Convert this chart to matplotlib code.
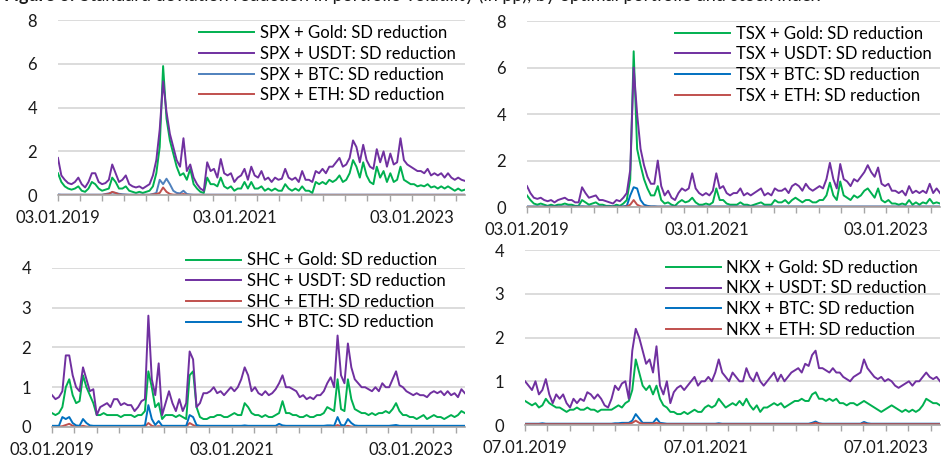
import numpy as np
import pandas as pd
import matplotlib
matplotlib.use("Agg")
import matplotlib.pyplot as plt
import matplotlib.dates as mdates
import matplotlib.ticker as mticker

plt.rcParams['font.family'] = ['Lato', 'DejaVu Sans']

# biweekly readings, 121 points per series
n_pts = 121
dates_a = pd.date_range("2019-01-03", periods=n_pts, freq="14D")  # SPX, TSX, SHC
dates_b = pd.date_range("2019-01-07", periods=n_pts, freq="14D")  # NKX

# ---- SPX ----
spx_gold = [1.0,0.6,0.4,0.3,0.25,0.3,0.4,0.2,0.15,0.3,
            0.6,0.5,0.3,0.2,0.25,0.3,0.8,0.6,0.3,0.3,
            0.4,0.2,0.15,0.1,0.15,0.1,0.15,0.2,0.4,1.0,
            2.2,5.9,3.5,2.5,1.9,1.3,0.9,1.0,0.7,1.2,
            0.5,0.3,0.15,0.1,0.8,0.5,0.5,0.4,0.8,0.4,
            0.3,0.4,0.2,0.3,0.3,0.6,0.3,0.6,0.3,0.3,
            0.4,0.2,0.3,0.2,0.3,0.2,0.2,0.5,0.3,0.2,
            0.3,0.2,0.4,0.2,0.2,0.1,0.6,0.5,0.6,0.5,
            0.7,0.6,0.7,0.9,0.6,0.7,1.0,1.6,1.3,0.8,
            1.5,0.9,0.6,0.5,1.3,0.8,1.1,0.6,1.0,0.6,
            0.7,1.3,0.7,0.6,0.5,0.5,0.4,0.45,0.4,0.5,
            0.35,0.4,0.3,0.4,0.3,0.4,0.3,0.2,0.3,0.2,
            0.25]
spx_usdt = [1.7,0.9,0.7,0.55,0.5,0.6,0.8,0.5,0.35,0.6,
            1.0,1.0,0.6,0.5,0.55,0.7,1.4,1.0,0.6,0.7,
            0.9,0.5,0.4,0.35,0.4,0.3,0.4,0.5,0.9,1.6,
            3.0,5.2,3.8,2.8,2.2,1.6,1.3,2.6,1.1,1.4,
            0.8,0.5,0.3,0.2,1.5,1.1,1.2,0.8,1.65,1.0,
            0.9,1.0,0.6,0.8,0.9,1.2,0.7,1.3,0.9,0.8,
            1.1,0.7,0.8,0.6,0.8,0.7,0.75,1.2,0.8,0.7,
            0.8,0.6,1.1,0.7,0.7,0.6,1.1,1.0,1.2,1.0,
            1.3,1.3,1.5,1.7,1.3,1.4,1.7,2.5,2.2,1.5,
            2.3,1.6,1.3,1.2,2.1,1.5,2.0,1.3,1.9,1.4,
            1.5,2.6,1.6,1.4,1.3,1.2,1.1,1.1,1.0,1.2,
            0.9,1.0,0.9,1.0,0.8,1.0,0.8,0.7,0.8,0.7,
            0.65]
spx_btc = [0.03,0.02,0.02,0.02,0.02,0.02,0.02,0.02,0.02,0.02,
           0.02,0.02,0.02,0.02,0.05,0.08,0.12,0.1,0.06,0.04,
           0.03,0.02,0.02,0.02,0.02,0.02,0.02,0.02,0.05,0.1,
           0.7,0.5,0.75,0.5,0.2,0.1,0.08,0.2,0.05,0.03,
           0.02,0.02,0.02,0.02,0.02,0.02,0.02,0.02,0.02,0.02,
           0.02,0.02,0.02,0.02,0.02,0.02,0.02,0.02,0.02,0.02,
           0.02,0.02,0.02,0.02,0.02,0.02,0.02,0.02,0.02,0.02,
           0.02,0.02,0.02,0.02,0.02,0.02,0.02,0.02,0.02,0.02,
           0.02,0.02,0.02,0.02,0.02,0.02,0.02,0.02,0.02,0.02,
           0.02,0.02,0.02,0.02,0.02,0.02,0.02,0.02,0.02,0.02,
           0.02,0.02,0.02,0.02,0.02,0.02,0.02,0.02,0.02,0.02,
           0.02,0.02,0.02,0.02,0.02,0.02,0.02,0.02,0.02,0.02,
           0.02]
spx_eth = [0.01,0.01,0.01,0.01,0.01,0.01,0.01,0.01,0.01,0.01,
           0.01,0.01,0.01,0.01,0.03,0.05,0.15,0.1,0.03,0.01,
           0.01,0.01,0.01,0.01,0.01,0.01,0.01,0.01,0.03,0.05,
           0.1,0.35,0.15,0.05,0.02,0.02,0.02,0.05,0.01,0.01,
           0.01,0.01,0.01,0.01,0.01,0.01,0.01,0.01,0.01,0.01,
           0.01,0.01,0.01,0.01,0.01,0.01,0.01,0.01,0.01,0.01,
           0.01,0.01,0.01,0.01,0.01,0.01,0.01,0.01,0.01,0.01,
           0.01,0.01,0.01,0.01,0.01,0.01,0.01,0.01,0.01,0.01,
           0.01,0.01,0.01,0.01,0.01,0.01,0.01,0.01,0.01,0.01,
           0.01,0.01,0.01,0.01,0.01,0.01,0.01,0.01,0.01,0.01,
           0.01,0.01,0.01,0.01,0.01,0.01,0.01,0.01,0.01,0.01,
           0.01,0.01,0.01,0.01,0.01,0.01,0.01,0.01,0.01,0.01,
           0.01]

# ---- TSX ----
tsx_gold = [0.5,0.3,0.15,0.1,0.15,0.1,0.05,0.1,0.05,0.1,
            0.1,0.15,0.1,0.1,0.05,0.05,0.3,0.2,0.1,0.15,
            0.2,0.1,0.1,0.05,0.05,0.03,0.1,0.05,0.15,0.3,
            1.2,6.7,2.5,1.8,1.2,0.8,0.5,0.5,0.9,0.3,
            0.15,0.2,0.1,0.05,0.2,0.3,0.2,0.25,0.4,0.2,
            0.1,0.1,0.15,0.1,0.2,0.8,0.3,0.3,0.15,0.1,
            0.1,0.1,0.2,0.1,0.1,0.05,0.1,0.15,0.2,0.1,
            0.1,0.1,0.3,0.2,0.2,0.3,0.15,0.3,0.4,0.3,
            0.2,0.3,0.3,0.2,0.2,0.3,0.3,0.5,1.05,0.5,
            0.3,1.1,0.5,0.4,0.3,0.5,0.4,0.5,0.7,0.8,
            0.6,0.4,0.8,0.3,0.2,0.3,0.15,0.15,0.1,0.15,
            0.1,0.3,0.1,0.2,0.1,0.2,0.15,0.35,0.15,0.2,
            0.15]
tsx_usdt = [0.9,0.6,0.4,0.35,0.4,0.3,0.25,0.3,0.2,0.3,
            0.35,0.4,0.3,0.3,0.2,0.2,0.85,0.6,0.4,0.45,
            0.5,0.3,0.3,0.25,0.2,0.15,0.3,0.25,0.4,0.6,
            1.6,6.0,4.0,2.5,1.8,1.3,1.0,1.0,2.0,0.9,
            0.5,0.7,0.4,0.3,0.6,0.8,0.7,0.8,1.45,0.8,
            0.6,0.5,0.6,0.5,0.7,1.45,0.8,0.9,0.6,0.5,
            0.6,0.6,0.8,0.5,0.6,0.5,0.6,0.7,0.8,0.5,
            0.6,0.5,0.8,0.7,0.7,0.8,0.6,0.9,1.0,0.9,
            0.7,1.0,0.8,0.7,0.8,0.9,0.8,1.2,1.9,1.2,
            0.8,1.85,1.2,1.1,0.9,1.2,1.1,1.3,1.5,1.8,
            1.5,1.3,1.7,1.0,0.9,1.0,0.7,0.7,0.6,0.7,
            0.5,0.9,0.6,0.7,0.6,0.7,0.6,1.0,0.6,0.8,
            0.6]
tsx_btc = [0.02,0.02,0.02,0.02,0.02,0.02,0.02,0.02,0.02,0.02,
           0.02,0.02,0.02,0.02,0.02,0.02,0.03,0.02,0.02,0.02,
           0.02,0.02,0.02,0.02,0.02,0.02,0.02,0.02,0.03,0.05,
           0.5,0.85,0.8,0.3,0.1,0.05,0.03,0.03,0.02,0.02,
           0.02,0.02,0.02,0.02,0.02,0.02,0.02,0.02,0.02,0.02,
           0.02,0.02,0.02,0.02,0.02,0.02,0.02,0.02,0.02,0.02,
           0.02,0.02,0.02,0.02,0.02,0.02,0.02,0.02,0.02,0.02,
           0.02,0.02,0.02,0.02,0.02,0.02,0.02,0.02,0.02,0.02,
           0.02,0.02,0.02,0.02,0.02,0.02,0.02,0.02,0.02,0.02,
           0.02,0.02,0.02,0.02,0.02,0.02,0.02,0.02,0.02,0.02,
           0.02,0.02,0.02,0.02,0.02,0.02,0.02,0.02,0.02,0.02,
           0.02,0.02,0.02,0.02,0.02,0.02,0.02,0.02,0.02,0.02,
           0.02]
tsx_eth = [0.01,0.01,0.01,0.01,0.01,0.01,0.01,0.01,0.01,0.01,
           0.01,0.01,0.01,0.01,0.01,0.01,0.01,0.01,0.01,0.01,
           0.01,0.01,0.01,0.01,0.01,0.01,0.01,0.01,0.01,0.02,
           0.1,0.3,0.1,0.03,0.01,0.01,0.01,0.01,0.01,0.01,
           0.01,0.01,0.01,0.01,0.01,0.01,0.01,0.01,0.01,0.01,
           0.01,0.01,0.01,0.01,0.01,0.01,0.01,0.01,0.01,0.01,
           0.01,0.01,0.01,0.01,0.01,0.01,0.01,0.01,0.01,0.01,
           0.01,0.01,0.01,0.01,0.01,0.01,0.01,0.01,0.01,0.01,
           0.01,0.01,0.01,0.01,0.01,0.01,0.01,0.01,0.01,0.01,
           0.01,0.01,0.01,0.01,0.01,0.01,0.01,0.01,0.01,0.01,
           0.01,0.01,0.01,0.01,0.01,0.01,0.01,0.01,0.01,0.01,
           0.01,0.01,0.01,0.01,0.01,0.01,0.01,0.01,0.01,0.01,
           0.01]

# ---- SHC ----
shc_gold = [0.35,0.3,0.35,0.5,1.0,1.2,0.8,0.6,0.65,1.3,
            1.0,0.8,0.6,0.3,0.3,0.35,0.3,0.3,0.3,0.3,
            0.25,0.3,0.3,0.3,0.25,0.3,0.3,0.4,1.4,1.0,
            0.5,0.6,0.2,0.3,0.3,0.3,0.25,0.3,0.25,0.2,
            1.3,1.4,0.5,0.25,0.2,0.2,0.25,0.25,0.3,0.3,
            0.25,0.25,0.3,0.35,0.3,0.3,0.6,0.5,0.35,0.3,
            0.3,0.25,0.3,0.25,0.25,0.3,0.35,0.65,0.35,0.35,
            0.3,0.3,0.25,0.25,0.3,0.25,0.25,0.3,0.3,0.35,
            0.5,0.45,0.4,1.2,0.45,0.4,1.2,0.7,0.45,0.4,
            0.35,0.35,0.3,0.35,0.3,0.35,0.35,0.4,0.35,0.45,
            0.6,0.4,0.3,0.3,0.25,0.25,0.2,0.25,0.3,0.2,
            0.25,0.3,0.25,0.25,0.2,0.25,0.3,0.25,0.3,0.4,
            0.35]
shc_usdt = [0.8,0.7,0.75,0.9,1.8,1.8,1.3,1.0,0.9,1.5,
            1.2,0.9,0.95,0.3,0.5,0.55,0.6,0.5,0.7,0.7,
            0.55,0.6,0.55,0.55,0.4,0.5,0.65,0.7,2.8,1.2,
            0.8,1.6,0.3,0.6,0.9,0.6,0.4,0.7,0.4,0.6,
            1.9,1.7,0.5,0.6,0.85,0.85,0.9,1.0,0.85,0.9,
            0.8,0.9,1.0,0.9,1.0,1.2,1.5,1.3,0.9,1.0,
            0.85,0.8,0.9,0.8,0.85,0.95,1.1,1.3,1.0,1.0,
            0.95,0.9,0.75,0.8,0.7,0.75,0.7,0.8,0.8,0.9,
            1.1,1.25,1.0,2.3,1.3,1.1,2.1,1.5,1.2,1.1,
            1.0,1.0,0.95,0.9,1.0,0.9,1.1,1.0,1.0,1.2,
            1.4,1.05,1.0,0.9,0.85,0.8,0.85,0.8,0.8,0.75,
            0.85,0.9,0.85,0.9,0.8,0.9,0.8,0.85,0.75,0.95,
            0.85]
shc_eth = [0.01,0.01,0.01,0.02,0.05,0.08,0.03,0.01,0.01,0.03,
           0.01,0.01,0.01,0.01,0.01,0.01,0.01,0.01,0.01,0.01,
           0.01,0.01,0.01,0.01,0.01,0.01,0.01,0.01,0.1,0.03,
           0.01,0.02,0.01,0.01,0.01,0.01,0.01,0.01,0.01,0.01,
           0.1,0.05,0.01,0.01,0.01,0.01,0.01,0.01,0.01,0.01,
           0.01,0.01,0.01,0.01,0.01,0.01,0.01,0.01,0.01,0.01,
           0.01,0.01,0.01,0.01,0.01,0.01,0.01,0.01,0.01,0.01,
           0.01,0.01,0.01,0.01,0.01,0.01,0.01,0.01,0.01,0.01,
           0.01,0.01,0.01,0.05,0.01,0.01,0.03,0.01,0.01,0.01,
           0.01,0.01,0.01,0.01,0.01,0.01,0.01,0.01,0.01,0.01,
           0.01,0.01,0.01,0.01,0.01,0.01,0.01,0.01,0.01,0.01,
           0.01,0.01,0.01,0.01,0.01,0.01,0.01,0.01,0.01,0.01,
           0.01]
shc_btc = [0.03,0.03,0.03,0.25,0.2,0.25,0.1,0.04,0.03,0.2,
           0.1,0.04,0.03,0.03,0.03,0.03,0.03,0.03,0.03,0.03,
           0.03,0.03,0.03,0.03,0.03,0.03,0.03,0.04,0.55,0.2,
           0.05,0.15,0.03,0.03,0.03,0.03,0.03,0.03,0.03,0.03,
           0.3,0.25,0.05,0.03,0.03,0.03,0.03,0.03,0.03,0.03,
           0.03,0.03,0.03,0.03,0.03,0.03,0.04,0.03,0.03,0.03,
           0.03,0.03,0.03,0.03,0.03,0.03,0.08,0.04,0.03,0.03,
           0.03,0.03,0.03,0.03,0.03,0.03,0.03,0.03,0.03,0.03,
           0.04,0.04,0.03,0.25,0.05,0.04,0.2,0.1,0.04,0.03,
           0.03,0.03,0.03,0.03,0.03,0.03,0.03,0.03,0.03,0.04,
           0.05,0.03,0.03,0.03,0.03,0.03,0.03,0.03,0.03,0.03,
           0.03,0.03,0.03,0.03,0.03,0.03,0.03,0.03,0.03,0.03,
           0.03]

# ---- NKX ----
nkx_gold = [0.55,0.5,0.45,0.5,0.4,0.45,0.6,0.5,0.45,0.4,
            0.4,0.35,0.3,0.35,0.35,0.4,0.35,0.35,0.4,0.35,
            0.35,0.3,0.35,0.35,0.35,0.35,0.4,0.45,0.4,0.5,
            0.55,0.8,1.5,1.2,0.9,0.8,0.9,0.7,0.9,0.6,
            0.45,0.4,0.3,0.3,0.25,0.25,0.3,0.25,0.3,0.35,
            0.3,0.3,0.4,0.45,0.4,0.45,0.6,0.5,0.4,0.45,
            0.5,0.45,0.55,0.45,0.6,0.45,0.35,0.45,0.3,0.4,
            0.4,0.45,0.5,0.45,0.5,0.4,0.45,0.5,0.55,0.55,
            0.6,0.55,0.55,0.7,0.75,0.6,0.6,0.55,0.6,0.55,
            0.6,0.5,0.5,0.45,0.5,0.5,0.45,0.5,0.55,0.5,
            0.45,0.4,0.35,0.3,0.35,0.4,0.45,0.4,0.35,0.3,
            0.35,0.3,0.35,0.3,0.35,0.45,0.6,0.55,0.5,0.5,
            0.45]
nkx_usdt = [1.0,0.9,0.8,1.0,0.7,0.8,1.05,0.7,0.5,0.7,
            0.6,0.7,0.5,0.4,0.6,0.5,0.6,0.55,0.75,0.7,
            0.6,0.7,0.6,0.45,0.4,0.6,0.9,0.8,0.95,1.0,
            0.6,1.7,2.2,2.0,1.7,1.4,1.5,1.2,1.8,0.9,
            0.7,1.0,0.5,0.75,0.85,0.9,0.8,0.9,1.0,1.1,
            0.9,1.0,1.0,1.1,1.0,1.2,1.5,1.2,1.1,1.0,
            1.2,1.1,1.0,1.0,1.3,1.1,1.0,1.2,1.0,0.9,
            1.0,1.1,1.2,1.0,1.15,1.0,1.1,1.2,1.25,1.3,
            1.2,1.4,1.35,1.6,1.7,1.3,1.3,1.25,1.2,1.3,
            1.2,1.2,1.1,1.05,1.0,1.1,1.15,1.2,1.5,1.3,
            1.2,1.1,1.05,1.1,1.0,1.05,1.0,0.9,0.85,0.9,
            0.95,1.0,0.9,1.0,1.0,1.1,1.2,1.1,1.05,1.1,
            1.0]
nkx_btc = [0.03,0.03,0.03,0.03,0.03,0.04,0.03,0.03,0.03,0.03,
           0.03,0.03,0.03,0.03,0.03,0.03,0.03,0.03,0.03,0.03,
           0.03,0.03,0.03,0.03,0.03,0.03,0.04,0.04,0.05,0.05,
           0.05,0.1,0.25,0.15,0.05,0.05,0.05,0.05,0.15,0.05,
           0.04,0.03,0.03,0.03,0.03,0.03,0.03,0.03,0.03,0.03,
           0.03,0.03,0.03,0.03,0.03,0.03,0.04,0.03,0.03,0.03,
           0.03,0.03,0.03,0.03,0.03,0.03,0.03,0.03,0.03,0.03,
           0.03,0.03,0.03,0.03,0.03,0.03,0.03,0.03,0.03,0.03,
           0.03,0.03,0.03,0.05,0.08,0.04,0.03,0.03,0.03,0.03,
           0.03,0.03,0.03,0.03,0.03,0.03,0.03,0.03,0.07,0.04,
           0.03,0.03,0.03,0.03,0.03,0.03,0.03,0.03,0.03,0.03,
           0.03,0.03,0.03,0.03,0.03,0.03,0.03,0.03,0.03,0.03,
           0.03]
nkx_eth = [0.02,0.02,0.02,0.02,0.02,0.02,0.02,0.02,0.02,0.02,
           0.02,0.02,0.02,0.02,0.02,0.02,0.02,0.02,0.02,0.02,
           0.02,0.02,0.02,0.02,0.02,0.02,0.02,0.02,0.02,0.03,
           0.03,0.05,0.1,0.05,0.03,0.03,0.03,0.03,0.05,0.03,
           0.02,0.02,0.02,0.02,0.02,0.02,0.02,0.02,0.02,0.02,
           0.02,0.02,0.02,0.02,0.02,0.02,0.02,0.02,0.02,0.02,
           0.02,0.02,0.02,0.02,0.02,0.02,0.02,0.02,0.02,0.02,
           0.02,0.02,0.02,0.02,0.02,0.02,0.02,0.02,0.02,0.02,
           0.02,0.02,0.02,0.03,0.05,0.03,0.02,0.02,0.02,0.02,
           0.02,0.02,0.02,0.02,0.02,0.02,0.02,0.02,0.04,0.02,
           0.02,0.02,0.02,0.02,0.02,0.02,0.02,0.02,0.02,0.02,
           0.02,0.02,0.02,0.02,0.02,0.02,0.02,0.02,0.02,0.02,
           0.02]

GREEN = "#00B050"
PURPLE = "#7030A0"
BLUE_LIGHT = "#4F81BD"
BLUE = "#0070C0"
RED = "#C0504D"
TXT = "#1a1a1a"
FS = 12


def draw_panel(rect, dates, series, ymax, ystep, major_dates, leg_anchor):
    ax = fig.add_axes(rect)
    for vals, lab, col in series:
        ax.plot(dates, vals, color=col, lw=1.4, label=lab)
    ax.set_ylim(0, ymax)
    ax.set_yticks(np.arange(0, ymax + 0.01, ystep))
    ax.set_xlim(dates[0], dates[-1])
    ax.grid(axis="y", color="#D9D9D9", lw=1.3)
    ax.set_axisbelow(True)
    for s in ["top", "right", "left"]:
        ax.spines[s].set_visible(False)
    ax.spines["bottom"].set_color("#A6A6A6")
    ax.spines["bottom"].set_linewidth(1.2)
    ax.xaxis.set_major_locator(mticker.FixedLocator(mdates.date2num(pd.to_datetime(major_dates))))
    ax.xaxis.set_major_formatter(mdates.DateFormatter("%d.%m.%Y"))
    ax.xaxis.set_minor_locator(mdates.MonthLocator(bymonth=(1, 4, 7, 10), bymonthday=dates[0].day))
    ax.tick_params(axis="x", which="both", direction="out", length=4, width=1, color="#A6A6A6",
                   labelsize=FS, labelcolor=TXT, pad=7)
    ax.tick_params(axis="y", length=0, labelsize=FS, labelcolor=TXT, pad=15)
    ax.legend(loc="upper right", bbox_to_anchor=leg_anchor, bbox_transform=fig.transFigure,
              frameon=False, fontsize=FS, handlelength=3.3, handletextpad=0.35,
              labelspacing=0.28, borderpad=0, borderaxespad=0)
    return ax


fig = plt.figure(figsize=(9.41, 4.58), dpi=100)

draw_panel([0.0616, 0.574, 0.4325, 0.382], dates_a,
           [(spx_gold, "SPX + Gold: SD reduction", GREEN),
            (spx_usdt, "SPX + USDT: SD reduction", PURPLE),
            (spx_btc, "SPX + BTC: SD reduction", BLUE_LIGHT),
            (spx_eth, "SPX + ETH: SD reduction", RED)],
           8, 2, ["2019-01-03", "2021-01-03", "2023-01-03"], (0.484, 0.945))

draw_panel([0.560, 0.548, 0.439, 0.406], dates_a,
           [(tsx_gold, "TSX + Gold: SD reduction", GREEN),
            (tsx_usdt, "TSX + USDT: SD reduction", PURPLE),
            (tsx_btc, "TSX + BTC: SD reduction", BLUE),
            (tsx_eth, "TSX + ETH: SD reduction", RED)],
           8, 2, ["2019-01-03", "2021-01-03", "2023-01-03"], (0.990, 0.944))

draw_panel([0.0553, 0.0677, 0.4387, 0.3473], dates_a,
           [(shc_gold, "SHC + Gold: SD reduction", GREEN),
            (shc_usdt, "SHC + USDT: SD reduction", PURPLE),
            (shc_eth, "SHC + ETH: SD reduction", RED),
            (shc_btc, "SHC + BTC: SD reduction", BLUE)],
           4, 1, ["2019-01-03", "2021-01-03", "2023-01-03"], (0.474, 0.449))

draw_panel([0.558, 0.072, 0.441, 0.382], dates_b,
           [(nkx_gold, "NKX + Gold: SD reduction", GREEN),
            (nkx_usdt, "NKX + USDT: SD reduction", PURPLE),
            (nkx_btc, "NKX + BTC: SD reduction", BLUE),
            (nkx_eth, "NKX + ETH: SD reduction", RED)],
           4, 1, ["2019-01-07", "2021-01-07", "2023-01-07"], (0.985, 0.433))

# caption cut off at the top edge of the image
fig.text(0.004, 1 - 0.5 / 458, "Figure 6:", fontsize=13, fontweight="bold", color=TXT, va="baseline")
fig.text(0.085, 1 - 0.5 / 458, "Standard deviation reduction in portfolio volatility (in pp), by optimal portfolio and stock index",
         fontsize=13, color=TXT, va="baseline")

fig.savefig("out.png", dpi=100)
